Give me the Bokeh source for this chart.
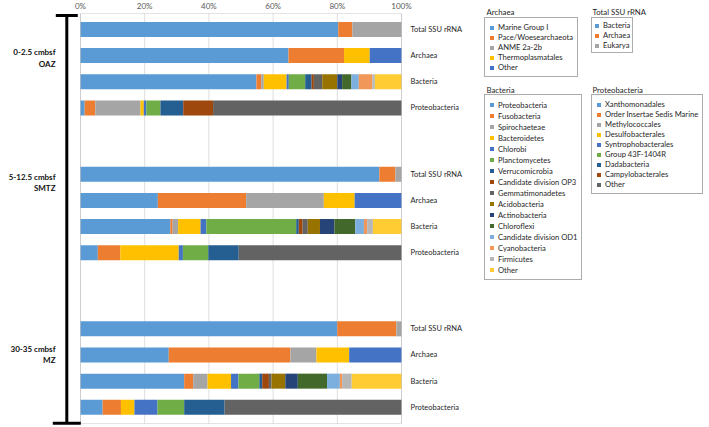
from bokeh.plotting import figure
from bokeh.models import (Range1d, FixedTicker, PrintfTickFormatter, Legend, LegendItem,
                          Label, Arrow, TeeHead, ColumnDataSource, LinearAxis, BoxAnnotation)
from bokeh.embed import file_html
from bokeh.resources import INLINE

# ---------------- data ----------------
ROW_LABELS = ["Total SSU rRNA", "Archaea", "Bacteria", "Proteobacteria"]
ZONE_DEPTHS = ["0-2.5 cmbsf", "5-12.5 cmbsf", "30-35 cmbsf"]
ZONE_NAMES = ["OAZ", "SMTZ", "MZ"]
PCT_TICKS = [0, 20, 40, 60, 80, 100]

TOTAL_GROUPS = ["Bacteria", "Archaea", "Eukarya"]
TOTAL_OAZ = [80.3, 4.4, 15.3]
TOTAL_SMTZ = [93.1, 5.0, 1.9]
TOTAL_MZ = [80.0, 18.4, 1.6]

ARCHAEA_GROUPS = ["Marine Group I", "Pace/Woesearchaeota", "ANME 2a-2b",
                  "Thermoplasmatales", "Other"]
ARCHAEA_OAZ = [64.8, 17.3, 0.0, 8.0, 9.9]
ARCHAEA_SMTZ = [24.1, 27.5, 24.2, 9.6, 14.6]
ARCHAEA_MZ = [27.5, 37.9, 8.1, 10.2, 16.3]

BACTERIA_GROUPS = ["Proteobacteria", "Fusobacteria", "Spirochaeteae", "Bacteroidetes",
                   "Chlorobi", "Planctomycetes", "Verrucomicrobia", "Candidate division OP3",
                   "Gemmatimonadetes", "Acidobacteria", "Actinobacteria", "Chloroflexi",
                   "Candidate division OD1", "Cyanobacteria", "Firmicutes", "Other"]
BACTERIA_OAZ = [54.8, 1.5, 0.8, 7.1, 0.7, 5.1, 2.0, 0.7, 2.6, 4.7, 1.5, 2.9, 2.3, 4.2, 0.8, 8.3]
BACTERIA_SMTZ = [28.0, 0.7, 1.7, 7.0, 1.8, 28.0, 0.8, 1.2, 1.6, 3.8, 4.5, 6.5, 2.7, 1.0, 1.8, 8.9]
BACTERIA_MZ = [32.3, 2.8, 4.5, 7.3, 2.3, 6.5, 0.9, 2.1, 0.8, 4.3, 3.9, 9.1, 4.0, 0.7, 3.0, 15.5]

PROTEO_GROUPS = ["Xanthomonadales", "Order Insertae Sedis Marine", "Methylococcales",
                 "Desulfobacterales", "Syntrophobacterales", "Group 43F-1404R",
                 "Dadabacteria", "Campylobacterales", "Other"]
PROTEO_OAZ = [1.3, 3.3, 14.1, 1.0, 0.8, 4.4, 7.1, 9.3, 58.7]
PROTEO_SMTZ = [5.4, 7.0, 0.0, 18.2, 1.3, 7.9, 9.5, 0.0, 50.7]
PROTEO_MZ = [6.9, 5.7, 0.0, 4.2, 7.2, 8.3, 12.6, 0.0, 55.1]

# ---------------- styles ----------------
TOTAL_COLORS = ["#5B9BD5", "#ED7D31", "#A5A5A5"]
ARCHAEA_COLORS = ["#5B9BD5", "#ED7D31", "#A5A5A5", "#FFC000", "#4472C4"]
BACTERIA_COLORS = ["#5B9BD5", "#ED7D31", "#A5A5A5", "#FFC000", "#4472C4", "#70AD47",
                   "#255E91", "#9E480E", "#636363", "#997300", "#264478", "#43682B",
                   "#7CAFDD", "#F1975A", "#B7B7B7", "#FFCD33"]
PROTEO_COLORS = ["#5B9BD5", "#ED7D31", "#A5A5A5", "#FFC000", "#4472C4", "#70AD47",
                 "#255E91", "#9E480E", "#636363"]

FONT = "Lato"
TXT = "#262626"

# layout: the frame covers the whole figure; the bar area is a sub-box of it
W, H = 709, 427
AREA_L, AREA_R, AREA_T, AREA_B = 80, 401, 13, 423   # pixel box of the 0-100 % bar area
ZONE_START = [0.0, 5.54, 11.45]      # row-slot offsets of the three zones
Y_TOP, Y_BOTTOM = -0.61, 15.07
BAR_H = 0.574

PX_X = (AREA_R - AREA_L) / 100.0
PX_Y = (AREA_B - AREA_T) / (Y_BOTTOM - Y_TOP)
X_RANGE = Range1d(-AREA_L / PX_X, (W - AREA_L) / PX_X)
Y_RANGE = Range1d(Y_BOTTOM + (H - AREA_B) / PX_Y, Y_TOP - AREA_T / PX_Y)


def sy(py):          # figure pixel row -> screen units (from frame bottom)
    return H - py


p = figure(width=W, height=H, x_range=X_RANGE, y_range=Y_RANGE,
           x_axis_location=None, y_axis_location=None,
           output_backend="svg", toolbar_location=None, min_border=0)
p.background_fill_color = "white"
p.border_fill_color = "white"
p.outline_line_color = None
p.grid.visible = False

# grid lines of the bar area
p.segment(x0=PCT_TICKS, y0=Y_TOP, x1=PCT_TICKS, y1=Y_BOTTOM,
          line_color="#dedede", line_width=1, level="underlay")

# top percentage axis
xa = LinearAxis(fixed_location=Y_TOP, bounds=(0, 100))
xa.ticker = FixedTicker(ticks=PCT_TICKS)
xa.formatter = PrintfTickFormatter(format="%d%%")
xa.axis_line_color = None
xa.major_tick_line_color = None
xa.minor_tick_line_color = None
xa.major_tick_out = 0
xa.major_tick_in = 0
xa.major_label_standoff = 3
xa.major_label_text_font = FONT
xa.major_label_text_font_size = "8px"
xa.major_label_text_color = "#595959"
p.add_layout(xa, "above")

# ---------------- bars ----------------
KINDS = [
    (TOTAL_GROUPS, [TOTAL_OAZ, TOTAL_SMTZ, TOTAL_MZ], TOTAL_COLORS),
    (ARCHAEA_GROUPS, [ARCHAEA_OAZ, ARCHAEA_SMTZ, ARCHAEA_MZ], ARCHAEA_COLORS),
    (BACTERIA_GROUPS, [BACTERIA_OAZ, BACTERIA_SMTZ, BACTERIA_MZ], BACTERIA_COLORS),
    (PROTEO_GROUPS, [PROTEO_OAZ, PROTEO_SMTZ, PROTEO_MZ], PROTEO_COLORS),
]

tick_pos = []
tick_lab = {}
renderers = []
for k, (groups, zone_vals, colors) in enumerate(KINDS):
    ys = [round(ZONE_START[z] + k, 2) for z in range(3)]
    for yv in ys:
        tick_pos.append(yv)
        tick_lab[yv] = ROW_LABELS[k]
    data = {"y": ys}
    keys = []
    for j in range(len(groups)):
        key = "s%d" % j
        data[key] = [zone_vals[z][j] for z in range(3)]
        keys.append(key)
    src = ColumnDataSource(data)
    rs = p.hbar_stack(keys, y="y", height=BAR_H, fill_color=colors, line_color=None,
                      source=src)
    renderers.append(rs)

# outline of the bar area
p.add_layout(BoxAnnotation(left=0, right=100, top=Y_TOP, bottom=Y_BOTTOM,
                           fill_alpha=0, line_color="#a6a6a6", line_width=1))

# right category axis
ya = LinearAxis(fixed_location=100, bounds=(Y_TOP, Y_BOTTOM))
ya.ticker = FixedTicker(ticks=sorted(tick_pos))
ya.major_label_overrides = tick_lab
ya.axis_line_color = None
ya.major_tick_line_color = None
ya.minor_tick_line_color = None
ya.major_tick_out = 0
ya.major_tick_in = 0
ya.major_label_standoff = 9
ya.major_label_text_font = FONT
ya.major_label_text_font_size = "7.5px"
ya.major_label_text_color = TXT
p.add_layout(ya, "right")

# ---------------- legends ----------------
LEGENDS = [
    # title, kind index, box left, box top, item height, spacing, padding, title x, title y
    ("Archaea", 1, 484, 19, 10, 0, 4, 486, 11.7),
    ("Total SSU rRNA", 0, 591, 19, 10, 0, 2, 592, 11.0),
    ("Bacteria", 2, 484, 96, 11, 0, 4, 486, 89.3),
    ("Proteobacteria", 3, 591, 96, 10, 0, 4, 592, 89.3),
]
for title, k, left, top, lh, sp, pad, tx, ty in LEGENDS:
    groups = KINDS[k][0]
    n = len(groups)
    height = 2 * pad + n * lh + (n - 1) * sp
    items = [LegendItem(label=g, renderers=[r]) for g, r in zip(groups, renderers[k])]
    lg = Legend(items=items, location=(left, sy(top + height)), orientation="vertical",
                glyph_width=5, glyph_height=5, label_height=lh, label_width=10,
                spacing=sp, padding=pad, margin=0, label_standoff=4,
                label_text_font=FONT, label_text_font_size="7.6px",
                label_text_color=TXT, border_line_color="#595959", border_line_width=1,
                background_fill_color="white", background_fill_alpha=1.0)
    p.add_layout(lg, "center")
    p.add_layout(Label(x=tx, y=sy(ty), x_units="screen", y_units="screen",
                       text=title, text_font=FONT, text_font_size="7.8px",
                       text_color=TXT, text_baseline="middle", text_align="left"))

# ---------------- zone labels and bracket ----------------
ZONE_LABEL_Y = [0.88, 5.64, 12.21]
for z in range(3):
    for line, dy in ((ZONE_DEPTHS[z], 0.0), (ZONE_NAMES[z], 0.43)):
        p.add_layout(Label(x=55, y=ZONE_LABEL_Y[z] + dy, x_units="screen", y_units="data",
                           text=line, text_font=FONT, text_font_style="bold",
                           text_font_size="8px", text_color="#111111",
                           text_align="right", text_baseline="middle"))

p.add_layout(Arrow(start=TeeHead(size=22, line_width=3, line_color="black"),
                   end=TeeHead(size=28, line_width=3, line_color="black"),
                   x_start=66.3, y_start=sy(15), x_end=66.3, y_end=sy(422.7),
                   start_units="screen", end_units="screen",
                   line_width=3, line_color="black"))

open("out.html", "w").write(file_html(p, INLINE))
